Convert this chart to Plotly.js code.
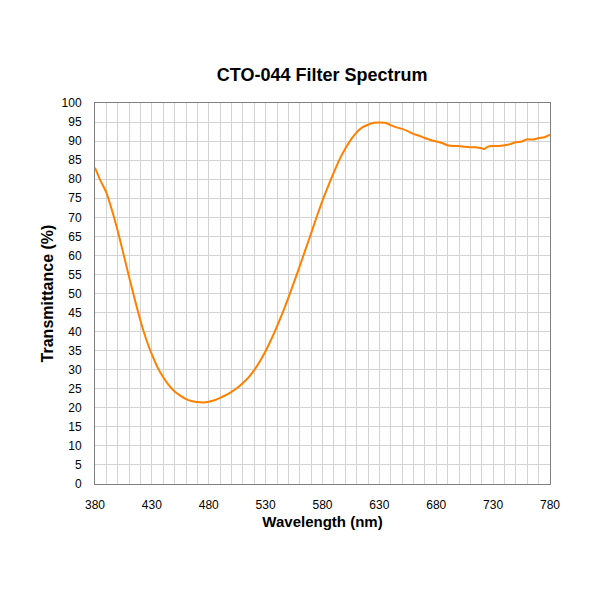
<!DOCTYPE html>
<html>
<head>
<meta charset="utf-8">
<script src="https://cdn.plot.ly/plotly-3.0.1.min.js"></script>
<style>html,body{margin:0;padding:0;background:#fff;}#chart{width:600px;height:600px;}</style>
</head>
<body>
<div id="chart"></div>
<script>
const wavelength = [380,385,390,395,400,405,410,415,420,425,430,435,440,445,450,455,460,465,470,475,480,485,490,495,500,505,510,515,520,525,530,535,540,545,550,555,560,565,570,575,580,585,590,595,600,605,610,615,620,625,630,635,640,645,650,655,660,665,670,675,680,685,690,695,700,705,710,715,720,722,725,730,735,740,745,750,755,760,765,770,775,780];
const transmittance = [83.0,79.5,76.5,71.8,66.4,60.4,54.3,48.4,42.8,38.0,34.0,30.6,28.0,25.9,24.3,23.2,22.3,21.8,21.5,21.4,21.6,22.0,22.6,23.3,24.2,25.2,26.5,28.0,29.9,32.2,34.9,38.0,41.4,45.0,48.9,53.0,57.2,61.5,65.8,70.2,74.4,78.2,81.8,85.2,88.0,90.4,92.3,93.6,94.3,94.8,94.9,94.8,94.2,93.6,93.2,92.6,91.9,91.4,90.8,90.3,89.9,89.5,88.9,88.7,88.7,88.5,88.4,88.4,88.1,87.9,88.5,88.7,88.7,88.9,89.2,89.7,89.9,90.5,90.4,90.8,91.0,91.7];
const xTicks = [380,430,480,530,580,630,680,730,780];
const yTicks = [0,5,10,15,20,25,30,35,40,45,50,55,60,65,70,75,80,85,90,95,100];

const trace = {
  x: wavelength, y: transmittance, type: 'scatter', mode: 'lines',
  line: {color: '#FF8000', width: 2, shape: 'spline', smoothing: 0.6},
  hoverinfo: 'skip'
};
const gridCol = '#d3d3d3';
const layout = {
  width: 600, height: 600,
  margin: {l: 95, r: 50, t: 103, b: 116},
  paper_bgcolor: '#fff', plot_bgcolor: '#fff',
  showlegend: false,
  font: {family: 'Arial, "Liberation Sans", sans-serif', color: '#000', size: 12},
  title: {text: '<b>CTO-044 Filter Spectrum</b>', x: 0.537, xanchor: 'center', y: 0.875, yanchor: 'middle', font: {size: 18, color: '#000'}},
  xaxis: {
    range: [380, 780], tickvals: xTicks, ticktext: xTicks.map(String),
    showgrid: true, gridcolor: gridCol, gridwidth: 1,
    minor: {dtick: 10, showgrid: true, gridcolor: gridCol, gridwidth: 1, ticks: ''},
    showline: true, linecolor: '#808080', linewidth: 1, mirror: true,
    ticks: '', ticklabelstandoff: 10, zeroline: false, fixedrange: true,
    title: {text: '<b>Wavelength (nm)</b>', font: {size: 15, color: '#000'}, standoff: 5}
  },
  yaxis: {
    range: [0, 100], tickvals: yTicks, ticktext: yTicks.map(String),
    showgrid: true, gridcolor: gridCol, gridwidth: 1,
    showline: true, linecolor: '#808080', linewidth: 1, mirror: true,
    ticks: '', ticklabelstandoff: 10, zeroline: false, fixedrange: true,
    title: {text: '<b>Transmittance (%)</b>', font: {size: 16, color: '#000'}, standoff: 3}
  }
};
Plotly.newPlot('chart', [trace], layout, {staticPlot: true, displayModeBar: false});
</script>
</body>
</html>
